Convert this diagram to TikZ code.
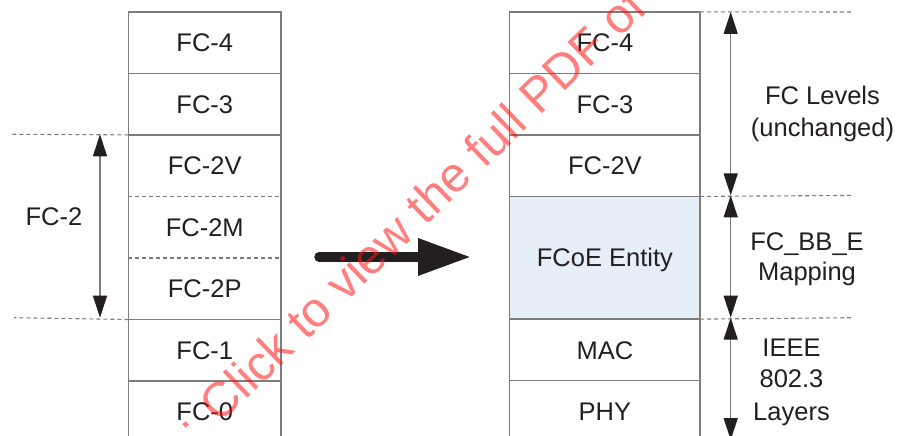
\documentclass[tikz,border=0pt]{standalone}
\usepackage{fontspec}
\setmainfont{Liberation Sans}
\usetikzlibrary{arrows.meta,positioning}
\definecolor{ink}{HTML}{231F20}
\definecolor{rule}{RGB}{125,125,125}
\definecolor{entity}{HTML}{E6EEF8}
\definecolor{wm}{RGB}{255,20,20}
\begin{document}
\begin{tikzpicture}[x=1pt,y=-1pt,
  layer/.style={inner sep=0pt, minimum height=61.14pt, text height=18.3pt, text depth=0pt,
                font=\fontsize{25.5}{30}\selectfont, text=ink},
  lcol/.style={layer, minimum width=152.5pt},
  rcol/.style={layer, minimum width=190.3pt},
  boxline/.style={draw=rule, line width=1.5pt},
  sepdash/.style={draw=rule, line width=1.1pt, dash pattern=on 4pt off 3pt},
  guide/.style={draw=rule, line width=1.1pt, dash pattern=on 4pt off 3pt},
  dim/.style={draw=rule, line width=1.4pt,
              {Triangle[length=22pt,width=14pt,color=ink]}-{Triangle[length=22pt,width=14pt,color=ink]}},
  lbl/.style={font=\fontsize{25.5}{31}\selectfont, text=ink, inner sep=0pt, anchor=base},
  bigarrow/.style={draw=ink, line width=9.5pt, line cap=round, -{Triangle[length=53pt,width=35pt]}},
  watermark/.style={rotate=44, anchor=base west, text=wm, opacity=0.55, inner sep=0pt,
                    font=\fontsize{49}{49}\selectfont},
]
\useasboundingbox (0,0) rectangle (900,436);

% left stack
\node[lcol] (a4) at (204.75,42.57) {FC-4};
\node[lcol, below=0pt of a4] (a3) {FC-3};
\node[lcol, below=0pt of a3] (a2v) {FC-2V};
\node[lcol, below=0pt of a2v] (a2m) {FC-2M};
\node[lcol, below=0pt of a2m] (a2p) {FC-2P};
\node[lcol, below=0pt of a2p] (a1) {FC-1};
\node[lcol, below=0pt of a1] (a0) {FC-0};

% right stack
\node[rcol] (b4) at (604.85,42.57) {FC-4};
\node[rcol, below=0pt of b4] (b3) {FC-3};
\node[rcol, below=0pt of b3] (b2v) {FC-2V};
\node[rcol, fill=entity, minimum height=122.28pt, below=0pt of b2v] (bent) {FCoE Entity};
\node[rcol, below=0pt of bent] (bmac) {MAC};
\node[rcol, below=0pt of bmac] (bphy) {PHY};

% borders
\draw[boxline] (a4.north west) rectangle (a0.south east);
\draw[boxline] (a3.north west) -- (a3.north east);
\draw[boxline] (a2v.north west) -- (a2v.north east);
\draw[sepdash] (a2m.north west) -- (a2m.north east);
\draw[sepdash] (a2p.north west) -- (a2p.north east);
\draw[boxline] (a1.north west) -- (a1.north east);
\draw[boxline] (a0.north west) -- (a0.north east);

\draw[boxline] (b4.north west) rectangle (bphy.south east);
\draw[boxline] (b3.north west) -- (b3.north east);
\draw[boxline] (b2v.north west) -- (b2v.north east);
\draw[boxline] (bent.north west) -- (bent.north east);
\draw[boxline] (bmac.north west) -- (bmac.north east);
\draw[boxline] (bphy.north west) -- (bphy.north east);

% left guides and FC-2 span
\coordinate (gl1) at (12,134.28);
\coordinate (gl2) at (14,317.70);
\draw[guide] (a2v.north west) -- (gl1);
\draw[guide] (a1.north west) -- (gl2);
\coordinate (fa) at (100,134.28);
\coordinate (fb) at (100,317.70);
\draw[dim] (fa) -- (fb);
\node[lbl] (fc2) at (54,225.7) {FC-2};

% right guides and spans
\coordinate (gr1) at (853,12.0);
\coordinate (gr2) at (853,195.42);
\coordinate (gr3) at (853,317.70);
\draw[guide] (b4.north east) -- (gr1);
\draw[guide] (bent.north east) -- (gr2);
\draw[guide] (bmac.north east) -- (gr3);
\coordinate (d1) at (730.7,12.0);
\coordinate (d2) at (730.7,195.42);
\coordinate (d3) at (730.7,317.70);
\coordinate (d4) at (730.7,440.0);
\draw[dim] (d1) -- (d2);
\draw[dim] (d2) -- (d3);
\draw[dim] (d3) -- (d4);

\node[lbl] (lv1) at (822.5,104.2) {FC Levels};
\node[lbl] (lv2) at (822.5,136.2) {(unchanged)};
\node[lbl] (mp1) at (807,250.2) {FC\_BB\_E};
\node[lbl] (mp2) at (807,280.9) {Mapping};
\node[lbl] (ie1) at (791.5,356.2) {IEEE};
\node[lbl] (ie2) at (791.5,387.9) {802.3};
\node[lbl] (ie3) at (791.5,420.2) {Layers};

% big arrow
\coordinate (bs) at (319,257);
\coordinate (be) at (471,257);
\draw[bigarrow] (bs) -- (be);

% watermark
\node[watermark] (wmk) at (197,447) {: Click to view the full PDF of};
\end{tikzpicture}
\end{document}
